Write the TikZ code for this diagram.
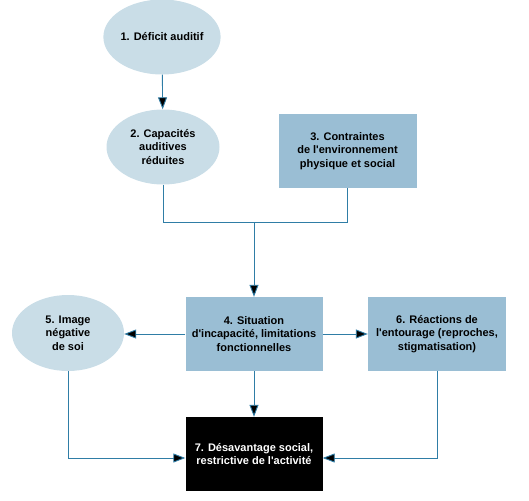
\documentclass[tikz,border=0pt]{standalone}
\usepackage{fontspec}
\setmainfont{Liberation Sans}
\usetikzlibrary{shapes.geometric,arrows.meta}
\definecolor{ellfill}{HTML}{C9DDE7}
\definecolor{boxfill}{HTML}{9ABED4}
\definecolor{linecol}{HTML}{2F7DA6}
\newcommand{\apos}{\textquotesingle}
\tikzset{
  txt/.style={font=\fontsize{11}{13.5}\selectfont\bfseries, align=center, inner sep=0pt},
  ell/.style={ellipse, fill=ellfill, draw=none, minimum width=113pt, minimum height=75pt, txt},
  boxn/.style={rectangle, fill=boxfill, draw=none, minimum width=138pt, minimum height=74pt, txt},
  blackbox/.style={rectangle, fill=black, draw=none, text=white, minimum width=137pt, minimum height=74pt, txt},
  conn/.style={draw=linecol, line width=0.9pt},
  arr/.style={conn, -{Triangle[length=12pt,width=9pt,fill=black]}}
}
\begin{document}
\begin{tikzpicture}[x=1pt,y=-1pt]
\useasboundingbox (0,0) rectangle (529,500);
\node[ell] (n1) at (162,37) {1. Déficit auditif};
\node[ell] (n2) at (163,147) {2. Capacités\\auditives\\réduites};
\node[boxn] (n3) at (347.5,151) {3. Contraintes\\de l\apos environnement\\physique et social};
\node[boxn, minimum width=137pt] (n4) at (254,334) {4. Situation\\d\apos incapacité, limitations\\fonctionnelles};
\node[ell, minimum width=112pt, minimum height=76pt] (n5) at (68,333) {5. Image\\négative\\de soi};
\node[boxn] (n6) at (437,334) {6. Réactions de\\l\apos entourage (reproches,\\stigmatisation)};
\node[blackbox] (n7) at (254,454) {7. Désavantage social,\\restrictive de l\apos activité};
\coordinate (j) at (254,222);
\coordinate (b5) at (68,458);
\coordinate (b6) at (437,458);
\draw[arr] (n1) -- (n2);
\draw[conn] (n2.south) |- (j);
\draw[conn] (n3.south) |- (j);
\draw[arr] (j) -- (n4.north);
\draw[arr] (n4.west) -- (n5.east |- n4.west);
\draw[arr] (n4.east) -- (n6.west);
\draw[arr] (n4.south) -- (n7.north);
\draw[arr] (n5.south) -- (b5) -- (n7.west |- b5);
\draw[arr] (n6.south) -- (b6) -- (n7.east |- b6);
\end{tikzpicture}
\end{document}
